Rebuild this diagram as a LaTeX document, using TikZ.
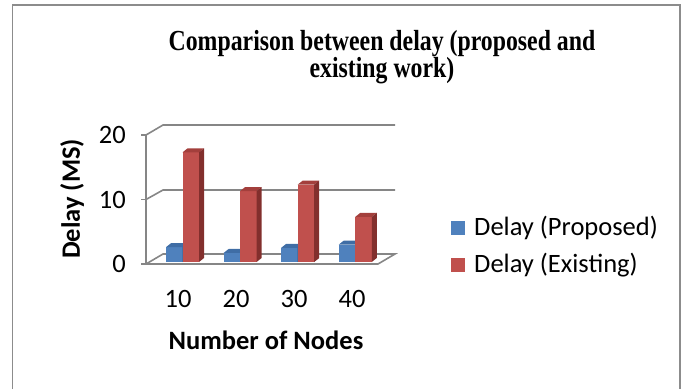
\documentclass[tikz,border=0pt]{standalone}
\usepackage{fontspec}
\setmainfont{Carlito}
\newfontfamily\titlefont{Liberation Serif}
\definecolor{pblue}{HTML}{4F81BD}
\definecolor{pbluetop}{HTML}{3F6DA5}
\definecolor{pblueside}{HTML}{2F5783}
\definecolor{pred}{HTML}{C0504D}
\definecolor{predtop}{HTML}{A33F3C}
\definecolor{predside}{HTML}{822F2D}
\definecolor{gridgray}{HTML}{868686}
\definecolor{framegray}{HTML}{8C8C8C}
\begin{document}
\begin{tikzpicture}[x=1pt,y=-1pt,
  frame/.style={draw=framegray,line width=1.2pt},
  gridl/.style={draw=gridgray,line width=1.6pt},
  lbl/.style={font=\fontsize{26.5}{28}\selectfont,inner sep=0pt},
  blbl/.style={font=\fontsize{26.5}{28}\selectfont\bfseries,inner sep=0pt},
  legsq/.style={minimum width=14pt,minimum height=14pt,inner sep=0pt}]
\useasboundingbox (0,0) rectangle (688,389);
% outer frame
\draw[frame] (12.5,389) -- (12.5,5) -- (680,5) -- (680,389);
% title
\node[inner sep=0pt] (title) at (382,57.5)
  {\scalebox{1}[1.22]{\titlefont\fontsize{23.8}{19.7}\selectfont\bfseries
   \begin{tabular}{@{}c@{}}Comparison between delay (proposed and\\existing work)\end{tabular}}};
% walls and gridlines
\draw[gridl] (146,135) -- (163,125) -- (395,125);
\draw[gridl] (146,199.5) -- (163,190) -- (395,190);
\draw[gridl] (146,264) -- (163,254) -- (395,254) -- (378,264) -- cycle;
\draw[gridl] (146,135) -- (146,264);
\foreach \yy in {135,199.5,264} \draw[gridl] (141,\yy) -- (146,\yy);
% tick labels
\node[lbl,anchor=east] (t20) at (126,135) {20};
\node[lbl,anchor=east] (t10) at (126,199.5) {10};
\node[lbl,anchor=east] (t0) at (126,264) {0};
% y-axis title
\node[blbl,rotate=90] (ytitle) at (72,199) {Delay (MS)};
% bars
\foreach \i/\b/\r in {0/2.3/17,1/1.4/11,2/2.2/12,3/2.7/7}{
  \pgfmathsetmacro\xa{166+57.6*\i}
  \pgfmathsetmacro\xb{\xa+16.5}
  \pgfmathsetmacro\xc{\xb+16.5}
  \pgfmathsetmacro\yb{262-\b*6.45}
  \pgfmathsetmacro\yr{262-\r*6.45}
  % blue
  \fill[pblue] (\xa,262) rectangle (\xb,\yb);
  \fill[pbluetop] (\xa,\yb) -- (\xa+5,\yb-4) -- (\xb+5,\yb-4) -- (\xb,\yb) -- cycle;
  \fill[pblueside] (\xb,\yb) -- (\xb+5,\yb-4) -- (\xb+5,258) -- (\xb,262) -- cycle;
  % red
  \fill[pred] (\xb,262) rectangle (\xc,\yr);
  \fill[predtop] (\xb,\yr) -- (\xb+5,\yr-4) -- (\xc+5,\yr-4) -- (\xc,\yr) -- cycle;
  \fill[predside] (\xc,\yr) -- (\xc+5,\yr-4) -- (\xc+5,258) -- (\xc,262) -- cycle;
}
% category labels
\node[lbl] (c10) at (178,299) {10};
\node[lbl] (c20) at (236,299) {20};
\node[lbl] (c30) at (294,299) {30};
\node[lbl] (c40) at (352,299) {40};
% x-axis title
\node[blbl] (xtitle) at (266,340) {Number of Nodes};
% legend
\node[legsq,fill=pblue] (lb) at (458,228) {};
\node[lbl,anchor=west] (lbt) at (474,228) {Delay (Proposed)};
\node[legsq,fill=pred] (lr) at (458,265) {};
\node[lbl,anchor=west] (lrt) at (474,265) {Delay (Existing)};
\end{tikzpicture}
\end{document}
